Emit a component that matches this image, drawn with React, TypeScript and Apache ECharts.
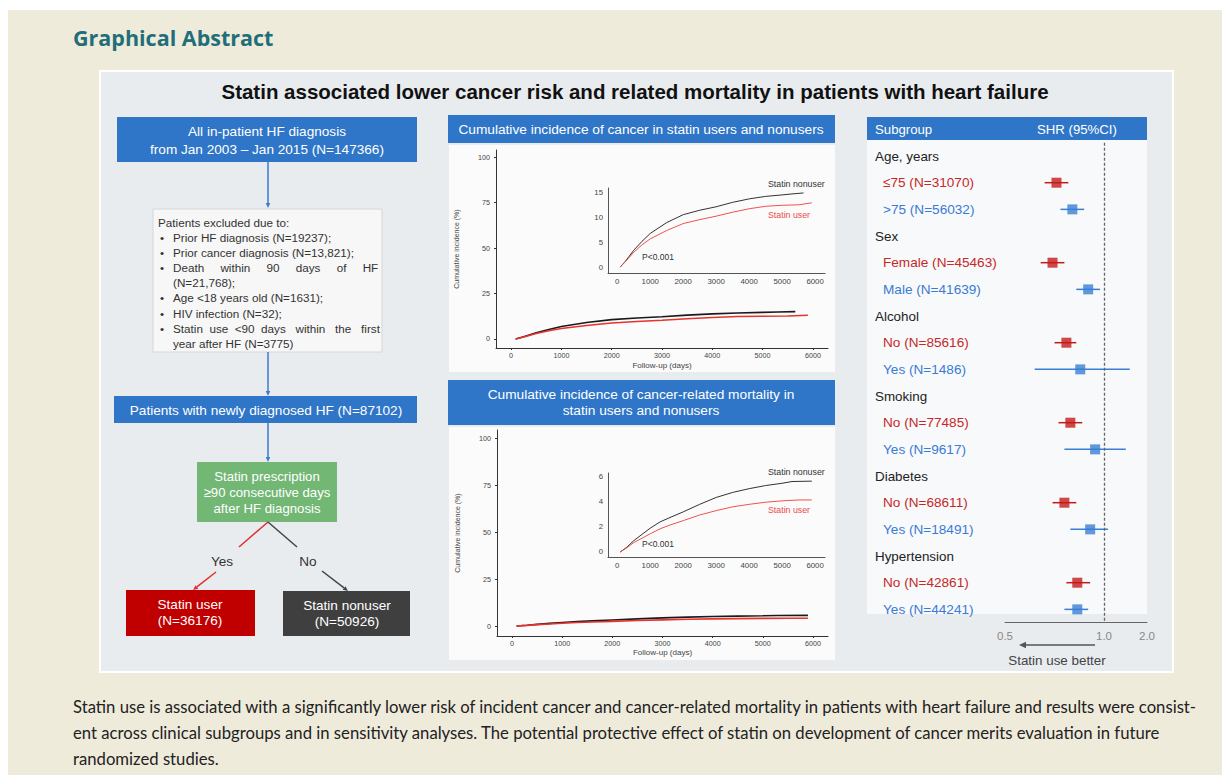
import React, { useEffect, useRef } from "react";
import * as echarts from "echarts";

// ---------- data ----------
const followUpTicks = [0, 1000, 2000, 3000, 4000, 5000, 6000];
const mainYTicks = [0, 25, 50, 75, 100];
const cancerInsetYTicks = [0, 5, 10, 15];
const mortInsetYTicks = [0, 2, 4, 6];

// cumulative incidence of cancer (%) by follow-up days
const cancerNonuser = [
  [90, 0], [250, 1.2], [500, 3.4], [750, 5.2], [1000, 6.8], [1500, 9.0], [2000, 10.6],
  [2500, 11.5], [3000, 12.2], [3500, 13.1], [4000, 13.8], [4500, 14.3], [5000, 14.6],
  [5300, 14.8], [5650, 15.0],
];
const cancerUser = [
  [90, 0], [250, 1.1], [500, 3.0], [750, 4.5], [1000, 5.7], [1500, 7.4], [2000, 8.8],
  [2500, 9.6], [3000, 10.3], [3500, 11.1], [4000, 11.8], [4500, 12.3], [5000, 12.5],
  [5500, 12.6], [5900, 13.0],
];
// cumulative incidence of cancer-related mortality (%)
const mortNonuser = [
  [90, 0], [300, 0.4], [500, 0.9], [750, 1.4], [1000, 1.9], [1300, 2.4], [1600, 2.75],
  [2000, 3.2], [2500, 3.8], [3000, 4.35], [3500, 4.75], [4000, 5.05], [4500, 5.3],
  [5000, 5.48], [5300, 5.62], [5900, 5.65],
];
const mortUser = [
  [90, 0], [300, 0.35], [500, 0.75], [750, 1.1], [1000, 1.45], [1300, 1.85], [1600, 2.15],
  [2000, 2.5], [2500, 2.95], [3000, 3.3], [3500, 3.6], [4000, 3.8], [4500, 3.97],
  [5000, 4.08], [5500, 4.15], [5900, 4.15],
];

// forest plot
const forestRows = [
  "Age, years", "≤75 (N=31070)", ">75 (N=56032)",
  "Sex", "Female (N=45463)", "Male (N=41639)",
  "Alcohol", "No (N=85616)", "Yes (N=1486)",
  "Smoking", "No (N=77485)", "Yes (N=9617)",
  "Diabetes", "No (N=68611)", "Yes (N=18491)",
  "Hypertension", "No (N=42861)", "Yes (N=44241)",
];
const rowKind = ["h", "r", "b", "h", "r", "b", "h", "r", "b", "h", "r", "b", "h", "r", "b", "h", "r", "b"];
const shrEst = [null, 0.76, 0.84, null, 0.74, 0.92, null, 0.81, 0.88, null, 0.83, 0.955, null, 0.80, 0.93, null, 0.865, 0.865];
const shrLow = [null, 0.70, 0.78, null, 0.68, 0.86, null, 0.75, 0.65, null, 0.77, 0.80, null, 0.74, 0.83, null, 0.81, 0.80];
const shrHigh = [null, 0.82, 0.90, null, 0.80, 0.98, null, 0.86, 1.13, null, 0.89, 1.11, null, 0.86, 1.02, null, 0.93, 0.92];
const forestTickValues = [0.5, 1.0, 1.217];
const forestTickLabels = ["0.5", "1.0", "2.0"];

const exclusionHeader = "Patients excluded due to:";
const exclusionLines = [
  { bullet: true, text: "Prior HF diagnosis (N=19237);" },
  { bullet: true, text: "Prior cancer diagnosis (N=13,821);" },
  { bullet: true, text: "Death     within     90     days     of     HF" },
  { bullet: false, text: "(N=21,768);" },
  { bullet: true, text: "Age <18 years old (N=1631);" },
  { bullet: true, text: "HIV infection (N=32);" },
  { bullet: true, text: "Statin  use  <90  days   within   the   first" },
  { bullet: false, text: "year after HF (N=3775)" },
];

const paragraph = [
  "Statin use is associated with a significantly lower risk of incident cancer and cancer-related mortality in patients with heart failure and results were consist-",
  "ent across clinical subgroups and in sensitivity analyses. The potential protective effect of statin on development of cancer merits evaluation in future",
  "randomized studies.",
];

// ---------- helpers ----------
const FF = '"Liberation Sans", Arial, Helvetica, sans-serif';
const BLUE = "#2f76c8";
const RED_T = "#c62828";
const BLUE_T = "#3a7bd5";

function T(x: number, y: number, text: string, o: any = {}) {
  const align = o.align ?? "left";
  return {
    type: "text",
    z: o.z ?? 10,
    silent: true,
    style: {
      x, y, text,
      fill: o.fill ?? "#222",
      fontSize: o.size ?? 13.6,
      fontFamily: o.family ?? FF,
      fontWeight: o.weight ?? "normal",
      textAlign: align,
      textVerticalAlign: "middle",
      align,
      verticalAlign: "middle",
    },
  };
}
function R(x: number, y: number, w: number, h: number, fill: string, z = 2, stroke?: string, lw = 0) {
  return { type: "rect", z, silent: true, shape: { x, y, width: w, height: h }, style: { fill, stroke, lineWidth: lw } };
}
function L(x1: number, y1: number, x2: number, y2: number, color: string, lw = 1.5, z = 6) {
  return { type: "line", z, silent: true, shape: { x1, y1, x2, y2 }, style: { stroke: color, lineWidth: lw } };
}
function Arrow(x1: number, y1: number, x2: number, y2: number, color: string, lw = 1.5, head = 6) {
  const a = Math.atan2(y2 - y1, x2 - x1);
  const bx = x2 - head * Math.cos(a);
  const by = y2 - head * Math.sin(a);
  const px = -Math.sin(a) * head * 0.45;
  const py = Math.cos(a) * head * 0.45;
  return [
    L(x1, y1, bx, by, color, lw),
    { type: "polygon", z: 6, silent: true, shape: { points: [[x2, y2], [bx + px, by + py], [bx - px, by - py]] }, style: { fill: color } },
  ];
}
const plain = (v: number) => String(v);

function mainXAxis(grid: number, nameGap: number) {
  return {
    type: "value", gridIndex: grid, min: -300, max: 6300, z: 3,
    axisLine: { show: true, onZero: false, lineStyle: { color: "#333", width: 1 } },
    axisTick: { show: true, customValues: followUpTicks, length: 2, lineStyle: { color: "#333" } },
    axisLabel: { customValues: followUpTicks, fontSize: 7.2, color: "#444", margin: 4, fontFamily: FF, formatter: plain },
    splitLine: { show: false },
    name: "Follow-up (days)", nameLocation: "middle", nameGap,
    nameTextStyle: { fontSize: 8, color: "#444", fontFamily: FF },
  };
}
function mainYAxis(grid: number, min: number, max: number) {
  return {
    type: "value", gridIndex: grid, min, max, z: 3,
    axisLine: { show: true, onZero: false, lineStyle: { color: "#333", width: 1 } },
    axisTick: { show: true, customValues: mainYTicks, length: 2, lineStyle: { color: "#333" } },
    axisLabel: { customValues: mainYTicks, fontSize: 7.2, color: "#444", margin: 6, fontFamily: FF, formatter: plain },
    splitLine: { show: false },
    name: "Cumulative incidence (%)", nameLocation: "middle", nameGap: 36, nameRotate: 90,
    nameTextStyle: { fontSize: 7, color: "#444", fontFamily: FF },
  };
}
function insetXAxis(grid: number) {
  return {
    type: "value", gridIndex: grid, min: -280, max: 6300, z: 3,
    axisLine: { show: true, onZero: false, lineStyle: { color: "#555", width: 1 } },
    axisTick: { show: false },
    axisLabel: { customValues: followUpTicks, fontSize: 7.8, color: "#444", margin: 4, fontFamily: FF, formatter: plain },
    splitLine: { show: false },
  };
}
function insetYAxis(grid: number, min: number, max: number, ticks: number[]) {
  return {
    type: "value", gridIndex: grid, min, max, z: 3,
    axisLine: { show: true, onZero: false, lineStyle: { color: "#555", width: 1 } },
    axisTick: { show: false },
    axisLabel: { customValues: ticks, fontSize: 7.8, color: "#444", margin: 5, fontFamily: FF, formatter: plain },
    splitLine: { show: false },
  };
}
function lineSeries(data: number[][], xi: number, color: string, width: number) {
  return {
    type: "line", xAxisIndex: xi, yAxisIndex: xi, data, showSymbol: false, symbol: "none",
    silent: true, z: 4, lineStyle: { color, width }, smooth: false,
  };
}

export default function App() {
  const ref = useRef<HTMLDivElement>(null);
  useEffect(() => {
    if (!ref.current) return;
    const chart = echarts.init(ref.current, null, { renderer: "svg" });

    const g: any[] = [];
    // backgrounds
    g.push(R(8, 10, 1214, 765, "#efebdb", 0));
    g.push(R(100, 71, 1073, 601, "#e8ecef", 1, "#ffffff", 2));
    g.push(T(73, 37, "Graphical Abstract", { fill: "#1f6e78", size: 21.5, weight: "bold", family: '"Open Sans", Lato, sans-serif' }));
    g.push(T(635, 91, "Statin associated lower cancer risk and related mortality in patients with heart failure", { size: 20.5, weight: "bold", align: "center", fill: "#111" }));

    // ---- flowchart ----
    g.push(R(117, 117, 300, 45, BLUE, 2));
    g.push(T(267, 131, "All in-patient HF diagnosis", { fill: "#fff", align: "center" }));
    g.push(T(267, 149, "from Jan 2003 \u2013 Jan 2015 (N=147366)", { fill: "#fff", align: "center" }));
    g.push(...Arrow(268, 162, 268, 208, "#3b7bd0", 1.5, 5));
    g.push(R(153, 209, 229, 143, "#f7f7f7", 2, "#d6d6d6", 1));
    g.push(T(158, 222, exclusionHeader, { size: 11.7, fill: "#333" }));
    exclusionLines.forEach((ln, i) => {
      const y = 237 + i * 15.2;
      if (ln.bullet) g.push(T(160, y, "\u2022", { size: 11.7, fill: "#333" }));
      g.push(T(173, y, ln.text, { size: 11.7, fill: "#333" }));
    });
    g.push(...Arrow(268, 352, 268, 396, "#3b7bd0", 1.5, 5));
    g.push(R(114, 396, 303, 27, BLUE, 2));
    g.push(T(266, 410, "Patients with newly diagnosed HF (N=87102)", { fill: "#fff", align: "center" }));
    g.push(...Arrow(268, 423, 268, 462, "#3b7bd0", 1.5, 5));
    g.push(R(197, 462, 140, 60, "#72b774", 2));
    g.push(T(267, 476, "Statin prescription", { fill: "#fff", align: "center", size: 13.2 }));
    g.push(T(267, 492, "\u226590 consecutive days", { fill: "#fff", align: "center", size: 13.2 }));
    g.push(T(267, 508, "after HF diagnosis", { fill: "#fff", align: "center", size: 13.2 }));
    g.push(L(268, 522, 239, 547, "#e03030", 1.5));
    g.push(...Arrow(216, 572, 193, 590, "#e03030", 1.5, 5));
    g.push(L(268, 522, 297, 547, "#444", 1.5));
    g.push(...Arrow(322, 571, 348, 591, "#444", 1.5, 5));
    g.push(T(222, 561, "Yes", { fill: "#333", align: "center" }));
    g.push(T(308, 561, "No", { fill: "#333", align: "center" }));
    g.push(R(126, 590, 129, 46, "#c00000", 2));
    g.push(T(190, 604, "Statin user", { fill: "#fff", align: "center" }));
    g.push(T(190, 620, "(N=36176)", { fill: "#fff", align: "center" }));
    g.push(R(283, 591, 127, 45, "#3f3f3f", 2));
    g.push(T(347, 605, "Statin nonuser", { fill: "#fff", align: "center" }));
    g.push(T(347, 621, "(N=50926)", { fill: "#fff", align: "center" }));

    // ---- middle charts ----
    g.push(R(448, 115, 387, 28, BLUE, 2));
    g.push(T(641, 129, "Cumulative incidence of cancer in statin users and nonusers", { fill: "#fff", align: "center", size: 13.7 }));
    g.push(R(449, 145, 386, 227, "#fbfbfb", 2));
    g.push(R(448, 380, 387, 45, BLUE, 2));
    g.push(T(641, 394, "Cumulative incidence of cancer-related mortality in", { fill: "#fff", align: "center", size: 13.7 }));
    g.push(T(641, 410, "statin users and nonusers", { fill: "#fff", align: "center", size: 13.7 }));
    g.push(R(449, 427, 386, 233, "#fbfbfb", 2));
    g.push(T(768, 184, "Statin nonuser", { size: 8.8, fill: "#333" }));
    g.push(T(768, 215, "Statin user", { size: 8.8, fill: "#e84c4c" }));
    g.push(T(642, 257, "P<0.001", { size: 8.5, fill: "#333" }));
    g.push(T(768, 472, "Statin nonuser", { size: 8.8, fill: "#333" }));
    g.push(T(768, 510, "Statin user", { size: 8.8, fill: "#e84c4c" }));
    g.push(T(642, 544, "P<0.001", { size: 8.5, fill: "#333" }));

    // ---- forest ----
    g.push(R(867, 117, 280, 23, BLUE, 2));
    g.push(T(875, 129, "Subgroup", { fill: "#fff", size: 13.2 }));
    g.push(T(1037, 129, "SHR (95%CI)", { fill: "#fff", size: 13.2 }));
    g.push(R(867, 140, 280, 474, "#f8f9fa", 2));
    g.push(...Arrow(1095, 645, 1019, 645, "#555", 1.5, 7));
    g.push(T(1057, 660, "Statin use better", { size: 13.4, fill: "#444", align: "center" }));

    // ---- paragraph ----
    paragraph.forEach((p, i) => {
      g.push(T(73, 707 + i * 26, p, { size: 16.7, fill: "#222", family: "Lato, sans-serif" }));
    });

    // forest data
    const ciData: any[] = [];
    const ciColors: string[] = [];
    const redPts: any[] = [];
    const bluePts: any[] = [];
    forestRows.forEach((_, i) => {
      if (shrEst[i] == null) return;
      ciData.push([shrLow[i], shrHigh[i], i]);
      ciColors.push(rowKind[i] === "r" ? "#c41a1a" : "#3a7fd5");
      if (rowKind[i] === "r") redPts.push([shrEst[i], i]);
      else bluePts.push([shrEst[i], i]);
    });

    const option: any = {
      animation: false,
      backgroundColor: "#ffffff",
      graphic: { elements: g },
      grid: [
        { left: 496, top: 150, width: 332, height: 198 },
        { left: 608, top: 188, width: 217, height: 85 },
        { left: 497, top: 430, width: 331, height: 206 },
        { left: 608, top: 473, width: 217, height: 84 },
        { left: 1005, top: 142.7, width: 142, height: 480 },
      ],
      xAxis: [
        mainXAxis(0, 13),
        insetXAxis(1),
        mainXAxis(2, 12),
        insetXAxis(3),
        {
          type: "value", gridIndex: 4, min: 0.5, max: 1.217, z: 3,
          axisLine: { show: true, onZero: false, lineStyle: { color: "#666", width: 1 } },
          axisTick: { show: false },
          axisLabel: {
            customValues: forestTickValues, fontSize: 11.5, color: "#888", margin: 7, fontFamily: FF,
            formatter: (v: number) => {
              let best = 0;
              forestTickValues.forEach((t, k) => { if (Math.abs(t - v) < Math.abs(forestTickValues[best] - v)) best = k; });
              return forestTickLabels[best];
            },
          },
          splitLine: { show: false },
        },
      ],
      yAxis: [
        mainYAxis(0, -5, 104),
        insetYAxis(1, -1.2, 16, cancerInsetYTicks),
        mainYAxis(2, -5.3, 104.3),
        insetYAxis(3, -0.4, 6.3, mortInsetYTicks),
        {
          type: "category", gridIndex: 4, data: forestRows, inverse: true, z: 3,
          axisLine: { show: false }, axisTick: { show: false }, splitLine: { show: false },
          axisLabel: {
            align: "left", margin: 130, interval: 0,
            formatter: (v: string, i: number) => `{${rowKind[i]}|${v}}`,
            rich: {
              h: { color: "#222", fontSize: 13.4, fontFamily: FF },
              r: { color: RED_T, fontSize: 13.6, fontFamily: FF, padding: [0, 0, 0, 8] },
              b: { color: BLUE_T, fontSize: 13.6, fontFamily: FF, padding: [0, 0, 0, 8] },
            },
          },
        },
      ],
      series: [
        lineSeries(cancerNonuser, 0, "#1a1a1a", 1.6),
        lineSeries(cancerUser, 0, "#e8322d", 1.6),
        lineSeries(cancerNonuser, 1, "#333333", 1),
        lineSeries(cancerUser, 1, "#f05050", 1),
        lineSeries(mortNonuser, 2, "#1a1a1a", 1.6),
        lineSeries(mortUser, 2, "#e8322d", 1.6),
        lineSeries(mortNonuser, 3, "#333333", 1),
        lineSeries(mortUser, 3, "#f05050", 1),
        {
          type: "custom", xAxisIndex: 4, yAxisIndex: 4, z: 4, silent: true,
          encode: { x: [0, 1], y: 2 },
          data: ciData,
          renderItem: (params: any, api: any) => {
            const lo = api.coord([api.value(0), api.value(2)]);
            const hi = api.coord([api.value(1), api.value(2)]);
            return {
              type: "line",
              shape: { x1: lo[0], y1: lo[1], x2: hi[0], y2: hi[1] },
              style: { stroke: ciColors[params.dataIndex], lineWidth: 1.5 },
            };
          },
        },
        {
          type: "scatter", xAxisIndex: 4, yAxisIndex: 4, z: 5, silent: true,
          symbol: "rect", symbolSize: 10, itemStyle: { color: "#c41a1a" }, data: redPts,
          markLine: {
            silent: true, symbol: "none", label: { show: false },
            lineStyle: { color: "#666", type: [3, 2], width: 1.3 },
            data: [{ xAxis: 1 }],
          },
        },
        {
          type: "scatter", xAxisIndex: 4, yAxisIndex: 4, z: 5, silent: true,
          symbol: "rect", symbolSize: 10, itemStyle: { color: "#3a7fd5" }, data: bluePts,
        },
      ],
    };
    chart.setOption(option);
    return () => chart.dispose();
  }, []);

  return (
    <div
      ref={ref}
      style={{ position: "fixed", left: 0, top: 0, width: 1231, height: 775 }}
    />
  );
}
